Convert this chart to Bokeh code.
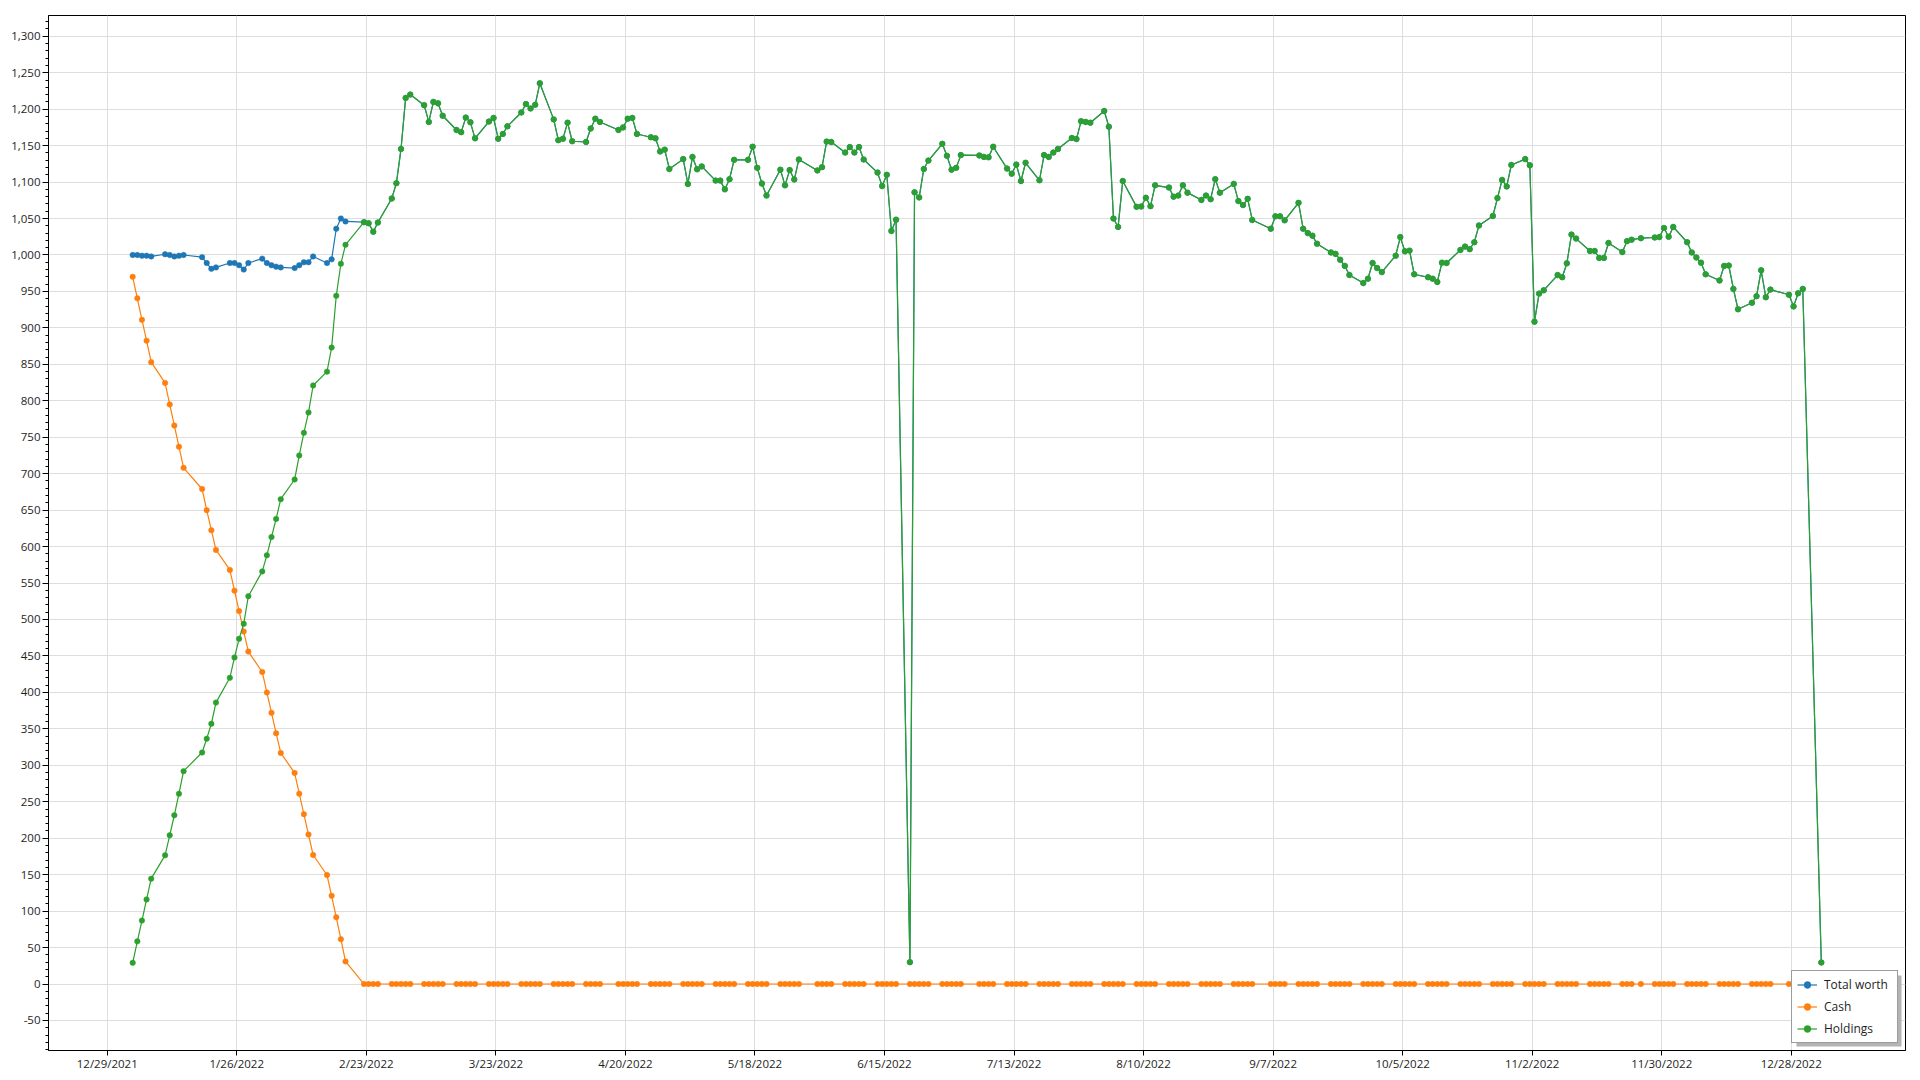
import pandas as pd
from bokeh.plotting import figure
from bokeh.models import (Range1d, FixedTicker, SingleIntervalTicker, NumeralTickFormatter,
                          Legend, LegendItem, ColumnDataSource, BoxAnnotation)
from bokeh.embed import file_html
from bokeh.resources import INLINE

# ---------------- data (trading days) ----------------
days_jan = [3, 4, 5, 6, 7, 10, 11, 12, 13, 14, 18, 19, 20, 21, 24, 25, 26, 27, 28, 31]
days_feb = [1, 2, 3, 4, 7, 8, 9, 10, 11, 14, 15, 16, 17, 18, 22, 23, 24, 25, 28]
days_mar = [1, 2, 3, 4, 7, 8, 9, 10, 11, 14, 15, 16, 17, 18, 21, 22, 23, 24, 25, 28, 29, 30, 31]
days_apr = [1, 4, 5, 6, 7, 8, 11, 12, 13, 14, 18, 19, 20, 21, 22, 25, 26, 27, 28, 29]
days_may = [2, 3, 4, 5, 6, 9, 10, 11, 12, 13, 16, 17, 18, 19, 20, 23, 24, 25, 26, 27, 31]
days_jun = [1, 2, 3, 6, 7, 8, 9, 10, 13, 14, 15, 16, 17, 20, 21, 22, 23, 24, 27, 28, 29, 30]
days_jul = [1, 5, 6, 7, 8, 11, 12, 13, 14, 15, 18, 19, 20, 21, 22, 25, 26, 27, 28, 29]
days_aug = [1, 2, 3, 4, 5, 8, 9, 10, 11, 12, 15, 16, 17, 18, 19, 22, 23, 24, 25, 26, 29, 30, 31]
days_sep = [1, 2, 6, 7, 8, 9, 12, 13, 14, 15, 16, 19, 20, 21, 22, 23, 26, 27, 28, 29, 30]
days_oct = [3, 4, 5, 6, 7, 10, 11, 12, 13, 14, 17, 18, 19, 20, 21, 24, 25, 26, 27, 28, 31]
days_nov = [1, 2, 3, 4, 7, 8, 9, 10, 11, 14, 15, 16, 17, 18, 21, 22, 23, 25, 28, 29, 30]
days_dec = [1, 2, 5, 6, 7, 8, 9, 12, 13, 14, 15, 16, 19, 20, 21, 22, 23, 27, 28, 29, 30]
days_jan23 = [3]

hold_jan = [29, 58.5, 87, 116, 144.5, 176.5, 204, 231.5, 261, 292, 317.5, 336.5, 357, 386,
            420, 448, 473.5, 494, 532, 566]
hold_feb = [588, 613, 638, 665, 692, 725, 756, 784, 821, 840, 873, 944, 988, 1014,
            1045, 1043.5, 1032, 1044.5, 1077.5]
hold_mar = [1098.5, 1145.5, 1215.5, 1220, 1205.5, 1182.5, 1210, 1208, 1191, 1171.5, 1168.5,
            1188.5, 1182, 1160, 1183, 1188, 1159.5, 1166, 1176.5, 1195.5, 1207, 1201, 1206]
hold_apr = [1235.5, 1186, 1157.5, 1159.5, 1181.5, 1156, 1155, 1173.5, 1187, 1182.5, 1171.5,
            1175, 1187, 1188, 1166, 1161.5, 1160, 1142, 1144.5, 1118]
hold_may = [1131.5, 1097.5, 1134.5, 1117.5, 1121.5, 1102, 1102, 1090, 1104, 1130.5, 1130.5,
            1148.5, 1119.5, 1098, 1081.5, 1117, 1095.5, 1116.5, 1103.5, 1131, 1116]
hold_jun = [1120.5, 1155.5, 1155, 1140.5, 1148, 1140.5, 1148, 1131, 1113, 1094.5, 1110, 1033,
            1048.5, 30, 1086, 1079, 1118, 1129.5, 1152.5, 1136, 1117, 1119.5]
hold_jul = [1137, 1136.5, 1134.5, 1134, 1148.5, 1118.5, 1111.5, 1124, 1101.5, 1126.5, 1102.5,
            1137, 1134.5, 1140.5, 1145.5, 1160.5, 1159, 1183.5, 1182.5, 1181.5]
hold_aug = [1197.5, 1176, 1050, 1038.5, 1101.5, 1066, 1066.5, 1078.5, 1067, 1095.5, 1092.5,
            1080, 1081.5, 1095.5, 1085.5, 1075.5, 1081.5, 1076.5, 1104, 1085.5, 1097.5, 1074,
            1068.5]
hold_sep = [1077, 1048, 1036, 1053, 1053, 1047.5, 1071.5, 1036, 1030, 1026.5, 1015.5, 1003.5,
            1001.5, 993.5, 985, 972.5, 961.5, 967.5, 989, 982, 976.5]
hold_oct = [999, 1024.5, 1005, 1006, 973.5, 969.5, 967.5, 963, 989.5, 989, 1007, 1011.5, 1008,
            1017.5, 1040.5, 1053.5, 1078, 1103, 1094, 1123.5, 1131.5]
hold_nov = [1123, 908.5, 947, 951.5, 972.5, 969.5, 988.5, 1028, 1022.5, 1005.5, 1005.5, 996,
            996, 1016.5, 1004, 1019, 1021, 1023, 1024, 1024.5, 1037]
hold_dec = [1025, 1038.5, 1017.5, 1003.5, 996.5, 989.5, 973.5, 965, 985, 985.5, 953.5, 925.5,
            934.5, 943.5, 979, 942, 952.5, 945.5, 929.5, 947.5, 953.5]
hold_jan23 = [29.5]

# cash until it reaches 0 on 2/22/2022 (stays 0 afterwards)
cash_early = [970, 940.5, 911, 882.5, 853, 824.5, 795, 766, 737, 708, 679, 650, 622.5, 595.5,
              568, 539.5, 511.5, 483.5, 456, 428,
              400, 372, 344, 317, 289.5, 261, 233, 205, 177, 149.5, 121, 91.5, 61.5, 31]
# total worth while cash was still > 0 (afterwards it equals holdings)
total_early = [1000, 1000, 999, 999, 998, 1001, 1000, 998, 999, 1000, 997, 989, 981, 983,
               989, 989, 986, 980, 989, 995,
               989, 986, 984, 983, 982, 986, 990, 990, 998, 989, 994, 1036, 1050, 1046]

x_tick_labels = ["12/29/2021", "1/26/2022", "2/23/2022", "3/23/2022", "4/20/2022", "5/18/2022",
                 "6/15/2022", "7/13/2022", "8/10/2022", "9/7/2022", "10/5/2022", "11/2/2022",
                 "11/30/2022", "12/28/2022"]

# ---------------- assemble ----------------
months = [("2022-01", days_jan), ("2022-02", days_feb), ("2022-03", days_mar),
          ("2022-04", days_apr), ("2022-05", days_may), ("2022-06", days_jun),
          ("2022-07", days_jul), ("2022-08", days_aug), ("2022-09", days_sep),
          ("2022-10", days_oct), ("2022-11", days_nov), ("2022-12", days_dec),
          ("2023-01", days_jan23)]
date_strings = [f"{ym}-{d:02d}" for ym, days in months for d in days]
dates = pd.to_datetime(date_strings) + pd.Timedelta(hours=12)

holdings = (hold_jan + hold_feb + hold_mar + hold_apr + hold_may + hold_jun + hold_jul +
            hold_aug + hold_sep + hold_oct + hold_nov + hold_dec + hold_jan23)
cash = cash_early + [0] * (len(dates) - len(cash_early))
total_worth = total_early + holdings[len(total_early):]
assert len(holdings) == len(dates) == len(cash) == len(total_worth)

src = ColumnDataSource(dict(x=dates, total=total_worth, cash=cash, hold=holdings))


def ms(ts):
    return pd.Timestamp(ts).value / 1e6


tick_ms = [ms(pd.to_datetime(t, format="%m/%d/%Y")) for t in x_tick_labels]
day_ms = 86400000.0
x0 = tick_ms[0]

FONT = "Open Sans"
FRAME_W, FRAME_H = 1857, 1035
X_START, X_END = x0 - 12.7 * day_ms, x0 + 388.7 * day_ms
Y_START, Y_END = -91.2, 1328.5

p = figure(frame_width=FRAME_W, frame_height=FRAME_H, x_axis_type="datetime",
           x_range=Range1d(X_START, X_END), y_range=Range1d(Y_START, Y_END),
           output_backend="svg", toolbar_location=None,
           min_border_left=48, min_border_right=7, min_border_top=15, min_border_bottom=22)
p.background_fill_color = "white"
p.border_fill_color = "white"
p.outline_line_color = "black"
p.outline_line_width = 1
p.outline_line_alpha = 1

# axes
p.xaxis.ticker = FixedTicker(ticks=tick_ms, minor_ticks=[])
p.xaxis.major_label_overrides = {t: lab for t, lab in zip(tick_ms, x_tick_labels)}
p.yaxis.ticker = SingleIntervalTicker(interval=50, num_minor_ticks=5)
p.yaxis.formatter = NumeralTickFormatter(format="0,0")
for ax in (p.xaxis[0], p.yaxis[0]):
    ax.axis_line_color = "black"
    ax.major_tick_line_color = "black"
    ax.minor_tick_line_color = "black"
    ax.major_tick_in = 0
    ax.minor_tick_in = 0
    ax.major_label_text_font = FONT
    ax.major_label_text_font_size = "11.5px"
    ax.major_label_text_color = "#1e1e1e"
p.xaxis.major_tick_out = 5
p.xaxis.minor_tick_out = 0
p.xaxis.major_label_standoff = 0
p.yaxis.major_tick_out = 6
p.yaxis.minor_tick_out = 3
p.yaxis.major_label_standoff = 2

p.xgrid.grid_line_color = "#dedede"
p.ygrid.grid_line_color = "#dedede"
p.xgrid.grid_line_width = 1
p.ygrid.grid_line_width = 1

BLUE, ORANGE, GREEN = "#1f77b4", "#ff7f0e", "#2ca02c"

series = [("Total worth", "total", BLUE), ("Cash", "cash", ORANGE), ("Holdings", "hold", GREEN)]
items = []
for label, col, color in series:
    ln = p.line("x", col, source=src, line_color=color, line_width=1.2)
    sc = p.scatter("x", col, source=src, marker="circle", size=5.5,
                   fill_color=color, line_color=color, line_width=0.5)
    items.append(LegendItem(label=label, renderers=[ln, sc]))

# legend box geometry (pixels) and its drop shadow
PAD, GLYPH_W, STANDOFF, LABEL_W, ITEM_H, SPACING, MARGIN = 5, 20, 7, 68, 17, 5, 7
LEG_W = 2 * PAD + GLYPH_W + STANDOFF + LABEL_W
LEG_H = 2 * PAD + 3 * ITEM_H + 2 * SPACING
SHADOW = 3
px_x = (X_END - X_START) / FRAME_W
px_y = (Y_END - Y_START) / FRAME_H
shadow = BoxAnnotation(
    left=X_END - (MARGIN + LEG_W - SHADOW) * px_x,
    right=X_END - (MARGIN - SHADOW) * px_x,
    bottom=Y_START + (MARGIN - SHADOW) * px_y,
    top=Y_START + (MARGIN + LEG_H - SHADOW) * px_y,
    fill_color="#b4b4b4", fill_alpha=1, line_alpha=0)
p.add_layout(shadow)

legend = Legend(items=items, location="bottom_right", margin=MARGIN,
                glyph_width=GLYPH_W, glyph_height=ITEM_H, label_height=ITEM_H,
                label_width=LABEL_W, label_standoff=STANDOFF, spacing=SPACING, padding=PAD,
                label_text_font=FONT, label_text_font_size="12px", label_text_color="#1e1e1e",
                background_fill_color="white", background_fill_alpha=1,
                border_line_color="#3a3a3a", border_line_width=1.5)
p.add_layout(legend, "center")

open("out.html", "w").write(file_html(p, INLINE))
